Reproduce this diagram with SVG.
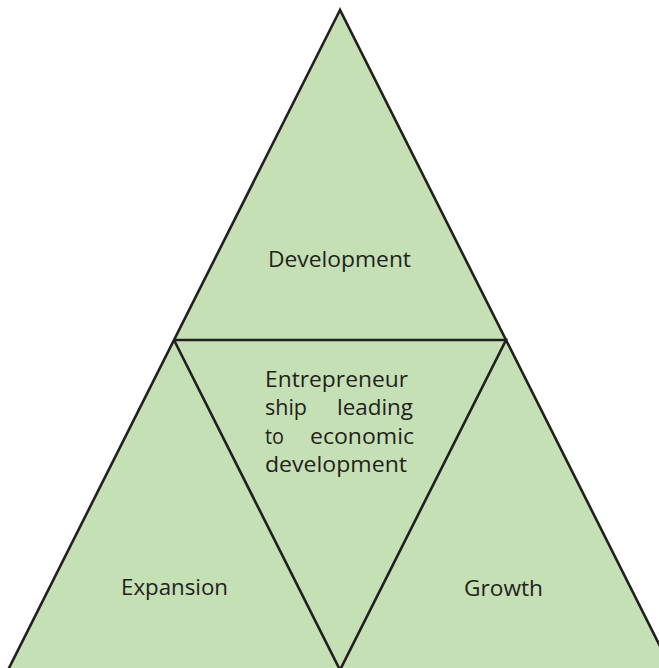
<svg xmlns="http://www.w3.org/2000/svg" width="659" height="668" viewBox="0 0 659 668">
  <style>
    .tri { fill: #c5e0b4; stroke: #231f20; stroke-width: 2.6; stroke-linejoin: miter; }
    .lbl { font-family: "Open Sans", "Liberation Sans", Arial, sans-serif; font-size: 22.5px; fill: #231f20; }
  </style>
  <rect width="659" height="668" fill="#ffffff"/>
  <g id="pyramid">
    <polygon class="tri" points="340,10 8,670 672,670"/>
  </g>
  <g id="connectors">
    <polyline class="tri" style="fill:none" points="174,340 506,340 340,670 174,340"/>
  </g>
  <g id="development">
    <text class="lbl" x="268" y="267" textLength="143" lengthAdjust="spacingAndGlyphs">Development</text>
  </g>
  <g id="center">
    <text class="lbl" x="265" y="387" textLength="143" lengthAdjust="spacingAndGlyphs">Entrepreneur</text>
    <text class="lbl" x="265" y="415" textLength="42" lengthAdjust="spacingAndGlyphs">ship</text>
    <text class="lbl" x="337" y="415" textLength="76" lengthAdjust="spacingAndGlyphs">leading</text>
    <text class="lbl" x="265" y="444" textLength="19" lengthAdjust="spacingAndGlyphs">to</text>
    <text class="lbl" x="310" y="444" textLength="104" lengthAdjust="spacingAndGlyphs">economic</text>
    <text class="lbl" x="265" y="472" textLength="142" lengthAdjust="spacingAndGlyphs">development</text>
  </g>
  <g id="expansion">
    <text class="lbl" x="121" y="595" textLength="107" lengthAdjust="spacingAndGlyphs">Expansion</text>
  </g>
  <g id="growth">
    <text class="lbl" x="464" y="596" textLength="79" lengthAdjust="spacingAndGlyphs">Growth</text>
  </g>
</svg>
